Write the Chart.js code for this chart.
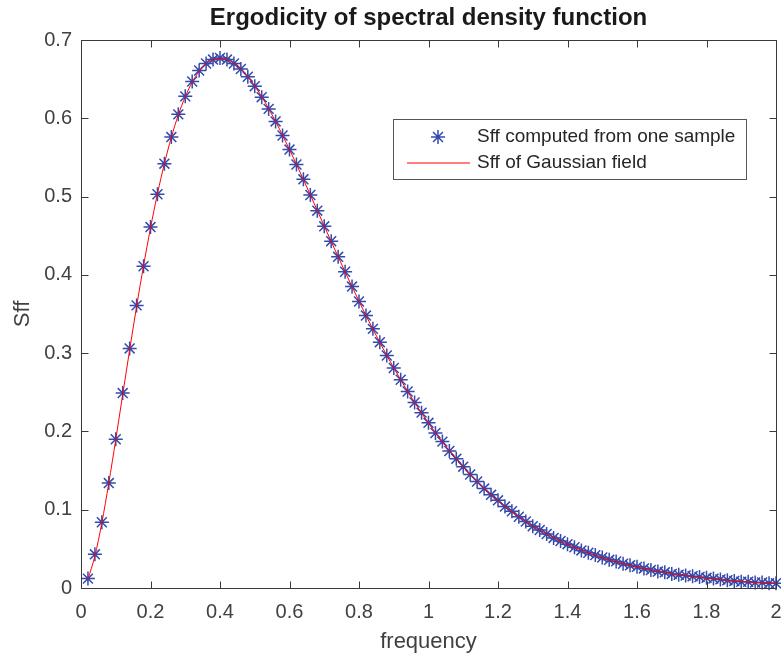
<!DOCTYPE html>
<html>
<head>
<meta charset="utf-8">
<script src="https://cdn.jsdelivr.net/npm/chart.js@4.4.0/dist/chart.umd.min.js"></script>
<style>
  html, body { margin: 0; padding: 0; background: #fff; }
  #wrap { width: 781px; height: 662px; }
</style>
</head>
<body>
<div id="wrap"><canvas id="chart" width="781" height="662"></canvas></div>
<script>
// frequency values (x)
const freq = [
  0.02, 0.04, 0.06, 0.08, 0.10, 0.12, 0.14, 0.16, 0.18, 0.20,
  0.22, 0.24, 0.26, 0.28, 0.30, 0.32, 0.34, 0.36, 0.38, 0.40,
  0.42, 0.44, 0.46, 0.48, 0.50, 0.52, 0.54, 0.56, 0.58, 0.60,
  0.62, 0.64, 0.66, 0.68, 0.70, 0.72, 0.74, 0.76, 0.78, 0.80,
  0.82, 0.84, 0.86, 0.88, 0.90, 0.92, 0.94, 0.96, 0.98, 1.00,
  1.02, 1.04, 1.06, 1.08, 1.10, 1.12, 1.14, 1.16, 1.18, 1.20,
  1.22, 1.24, 1.26, 1.28, 1.30, 1.32, 1.34, 1.36, 1.38, 1.40,
  1.42, 1.44, 1.46, 1.48, 1.50, 1.52, 1.54, 1.56, 1.58, 1.60,
  1.62, 1.64, 1.66, 1.68, 1.70, 1.72, 1.74, 1.76, 1.78, 1.80,
  1.82, 1.84, 1.86, 1.88, 1.90, 1.92, 1.94, 1.96, 1.98, 2.00
];

// Sff computed from one sample (stars)
const sampleSff = [
  0.012, 0.043, 0.084, 0.134, 0.190, 0.249, 0.306, 0.361, 0.411, 0.461,
  0.503, 0.542, 0.576, 0.605, 0.628, 0.647, 0.661, 0.670, 0.675, 0.677,
  0.675, 0.670, 0.663, 0.653, 0.641, 0.627, 0.612, 0.596, 0.578, 0.560,
  0.541, 0.522, 0.502, 0.482, 0.462, 0.443, 0.423, 0.404, 0.385, 0.366,
  0.348, 0.331, 0.314, 0.297, 0.281, 0.266, 0.251, 0.237, 0.224, 0.211,
  0.198, 0.187, 0.175, 0.165, 0.155, 0.145, 0.136, 0.127, 0.119, 0.112,
  0.104, 0.098, 0.091, 0.085, 0.079, 0.074, 0.069, 0.064, 0.060, 0.056,
  0.052, 0.048, 0.045, 0.042, 0.039, 0.036, 0.034, 0.031, 0.029, 0.027,
  0.025, 0.023, 0.021, 0.020, 0.018, 0.017, 0.016, 0.015, 0.014, 0.013,
  0.012, 0.011, 0.010, 0.009, 0.008, 0.008, 0.007, 0.007, 0.006, 0.006
];

// Sff of Gaussian field (red line)
const gaussSff = [
  0.0113, 0.0409, 0.0833, 0.1341, 0.1895, 0.2470, 0.3042, 0.3595, 0.4117, 0.4598,
  0.5035, 0.5421, 0.5757, 0.6042, 0.6276, 0.6461, 0.6600, 0.6695, 0.6749, 0.6767,
  0.6750, 0.6704, 0.6630, 0.6532, 0.6413, 0.6276, 0.6124, 0.5959, 0.5784, 0.5601,
  0.5412, 0.5218, 0.5021, 0.4822, 0.4624, 0.4426, 0.4231, 0.4038, 0.3849, 0.3663,
  0.3482, 0.3307, 0.3136, 0.2971, 0.2812, 0.2659, 0.2511, 0.2370, 0.2235, 0.2106,
  0.1982, 0.1865, 0.1753, 0.1646, 0.1545, 0.1450, 0.1359, 0.1273, 0.1192, 0.1115,
  0.1043, 0.0975, 0.0911, 0.0851, 0.0794, 0.0741, 0.0691, 0.0644, 0.0600, 0.0559,
  0.0520, 0.0484, 0.0450, 0.0418, 0.0389, 0.0361, 0.0336, 0.0312, 0.0289, 0.0268,
  0.0249, 0.0231, 0.0214, 0.0198, 0.0184, 0.0170, 0.0158, 0.0146, 0.0135, 0.0125,
  0.0116, 0.0107, 0.0099, 0.0091, 0.0084, 0.0078, 0.0072, 0.0067, 0.0061, 0.0057
];

const seriesNames = ["Sff computed from one sample", "Sff of Gaussian field"];

const FONT = "Arial, 'Liberation Sans', Helvetica, sans-serif";
const AXIS_COLOR = "#3a3a3a";
const TEXT_COLOR = "#404040";
const STAR_COLOR = "rgb(52,74,172)";
const LINE_COLOR = "#ff0000";

function drawStar(ctx, cx, cy, r) {
  const d = r * Math.SQRT1_2;
  ctx.beginPath();
  ctx.moveTo(cx - r, cy); ctx.lineTo(cx + r, cy);
  ctx.moveTo(cx, cy - r); ctx.lineTo(cx, cy + r);
  ctx.moveTo(cx - d, cy - d); ctx.lineTo(cx + d, cy + d);
  ctx.moveTo(cx - d, cy + d); ctx.lineTo(cx + d, cy - d);
  ctx.stroke();
}

// box, inward ticks, title and legend (MATLAB look)
const framePlugin = {
  id: "frame",
  afterDraw(chart) {
    const { ctx, chartArea: a, scales: { x, y } } = chart;
    ctx.save();
    ctx.strokeStyle = AXIS_COLOR;
    ctx.lineWidth = 1;
    ctx.strokeRect(a.left + 0.5, a.top + 0.5, a.right - a.left, a.bottom - a.top);

    const tl = 7;
    ctx.beginPath();
    x.ticks.forEach((t) => {
      const px = Math.round(x.getPixelForValue(t.value)) + 0.5;
      ctx.moveTo(px, a.bottom + 0.5); ctx.lineTo(px, a.bottom + 0.5 - tl);
      ctx.moveTo(px, a.top + 0.5); ctx.lineTo(px, a.top + 0.5 + tl);
    });
    y.ticks.forEach((t) => {
      const py = Math.round(y.getPixelForValue(t.value)) + 0.5;
      ctx.moveTo(a.left + 0.5, py); ctx.lineTo(a.left + 0.5 + tl, py);
      ctx.moveTo(a.right + 0.5, py); ctx.lineTo(a.right + 0.5 - tl, py);
    });
    ctx.stroke();

    // title
    ctx.fillStyle = "#1a1a1a";
    ctx.font = "bold 24px " + FONT;
    ctx.textAlign = "center";
    ctx.textBaseline = "middle";
    ctx.fillText("Ergodicity of spectral density function", (a.left + a.right) / 2, 18);

    // legend
    const lx = 393.5, ly = 119.5, lw = 353, lh = 60;
    ctx.fillStyle = "#fff";
    ctx.fillRect(lx, ly, lw, lh);
    ctx.strokeStyle = "#555";
    ctx.lineWidth = 1;
    ctx.strokeRect(lx, ly, lw, lh);

    ctx.strokeStyle = STAR_COLOR;
    ctx.lineWidth = 1.5;
    drawStar(ctx, 438, 137, 7);

    ctx.beginPath();
    ctx.strokeStyle = LINE_COLOR;
    ctx.lineWidth = 1.2;
    ctx.moveTo(407, 163);
    ctx.lineTo(470, 163);
    ctx.stroke();

    ctx.fillStyle = "#262626";
    ctx.font = "19px " + FONT;
    ctx.textAlign = "left";
    ctx.textBaseline = "middle";
    ctx.fillText(seriesNames[0], 477, 137);
    ctx.fillText(seriesNames[1], 477, 163);
    ctx.restore();
  },
};

const tickFont = { family: FONT, size: 20 };
const labelFont = { family: FONT, size: 22 };

new Chart(document.getElementById("chart"), {
  type: "line",
  data: {
    datasets: [
      {
        label: seriesNames[1],
        data: freq.map((f, i) => ({ x: f, y: gaussSff[i] })),
        borderColor: LINE_COLOR,
        borderWidth: 1,
        pointRadius: 0,
        fill: false,
        cubicInterpolationMode: "monotone",
        clip: false,
        order: 0,
      },
      {
        label: seriesNames[0],
        data: freq.map((f, i) => ({ x: f, y: sampleSff[i] })),
        showLine: false,
        pointStyle: "star",
        pointRadius: 7,
        pointBorderWidth: 1.5,
        pointBorderColor: STAR_COLOR,
        pointBackgroundColor: STAR_COLOR,
        borderColor: STAR_COLOR,
        clip: false,
        order: 1,
      },
    ],
  },
  options: {
    responsive: false,
    animation: false,
    events: [],
    layout: { autoPadding: false, padding: { top: 40, right: 5, left: 0, bottom: 0 } },
    plugins: { legend: { display: false }, tooltip: { enabled: false }, title: { display: false } },
    scales: {
      x: {
        type: "linear",
        min: 0,
        max: 2,
        grid: { display: false, drawTicks: false },
        border: { display: false },
        ticks: {
          stepSize: 0.2,
          autoSkip: false,
          maxRotation: 0,
          padding: 12,
          color: TEXT_COLOR,
          font: tickFont,
          callback: (v) => +v.toFixed(1),
        },
        title: { display: true, text: "frequency", color: TEXT_COLOR, font: labelFont, padding: { top: 0, bottom: 7 } },
        afterFit(s) {
          s.height = 74;
          s.paddingLeft = 0;
          s.paddingRight = 0;
        },
      },
      y: {
        min: 0,
        max: 0.7,
        grid: { display: false, drawTicks: false },
        border: { display: false },
        ticks: {
          stepSize: 0.1,
          padding: 9,
          color: TEXT_COLOR,
          font: tickFont,
          callback: (v) => +v.toFixed(1),
        },
        title: { display: true, text: "Sff", color: TEXT_COLOR, font: labelFont, padding: { top: 10, bottom: 0 } },
        afterFit(s) {
          s.width = 81;
          s.paddingTop = 0;
          s.paddingBottom = 0;
        },
      },
    },
  },
  plugins: [framePlugin],
});
</script>
</body>
</html>
